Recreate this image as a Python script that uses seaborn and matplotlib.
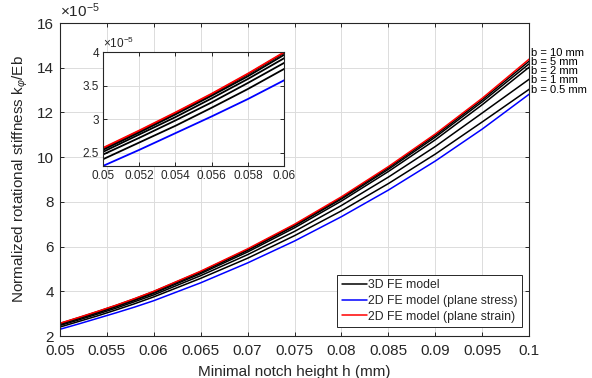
import numpy as np
import pandas as pd
import matplotlib
matplotlib.use("Agg")
import matplotlib.pyplot as plt
import seaborn as sns

# minimal notch height h (mm) and normalized stiffness (in units of 1e-5)
h = [0.05, 0.052, 0.054, 0.056, 0.058, 0.06, 0.065, 0.07, 0.075, 0.08, 0.085, 0.09, 0.095, 0.1]
plane_strain = [2.57, 2.83, 3.10, 3.38, 3.68, 4.00, 4.90, 5.90, 7.00, 8.23, 9.58, 11.04, 12.64, 14.39]
b10 = [2.56, 2.82, 3.09, 3.37, 3.67, 3.99, 4.88, 5.87, 6.97, 8.19, 9.53, 10.98, 12.57, 14.30]
b5 = [2.54, 2.80, 3.07, 3.35, 3.64, 3.96, 4.85, 5.83, 6.92, 8.13, 9.46, 10.90, 12.48, 14.18]
b2 = [2.51, 2.77, 3.03, 3.31, 3.60, 3.91, 4.79, 5.76, 6.84, 8.04, 9.36, 10.78, 12.35, 14.03]
b1 = [2.47, 2.72, 2.98, 3.25, 3.54, 3.84, 4.70, 5.64, 6.68, 7.84, 9.11, 10.48, 11.98, 13.49]
b05 = [2.40, 2.65, 2.90, 3.17, 3.45, 3.75, 4.58, 5.48, 6.49, 7.60, 8.82, 10.14, 11.58, 13.04]
plane_stress = [2.30, 2.54, 2.79, 3.04, 3.30, 3.58, 4.38, 5.27, 6.25, 7.34, 8.53, 9.83, 11.26, 12.82]

b_labels = ["b = 10 mm", "b = 5 mm", "b = 2 mm", "b = 1 mm", "b = 0.5 mm"]
b_series = [b10, b5, b2, b1, b05]

sns.set_style("ticks")
plt.rcParams['font.family'] = ['Liberation Sans', 'DejaVu Sans']
plt.rcParams['mathtext.fontset'] = 'custom'
plt.rcParams['mathtext.rm'] = 'Liberation Sans'
plt.rcParams['mathtext.it'] = 'Liberation Sans:italic'

dark = "#262626"


def draw(ax, lw, with_labels):
    for i, s in enumerate(b_series):
        sns.lineplot(x=h, y=s, ax=ax, color="black", lw=lw,
                     label="3D FE model" if (with_labels and i == 0) else None)
    sns.lineplot(x=h, y=plane_stress, ax=ax, color="#0000ff", lw=lw,
                 label="2D FE model (plane stress)" if with_labels else None)
    sns.lineplot(x=h, y=plane_strain, ax=ax, color="#ff0000", lw=lw,
                 label="2D FE model (plane strain)" if with_labels else None)


def style(ax, fs, pad):
    ax.grid(True, color="#dcdcdc", lw=0.7)
    ax.set_axisbelow(True)
    ax.tick_params(direction="in", top=True, right=True, labelsize=fs,
                   colors=dark, length=3, width=0.7, pad=pad)
    for sp in ax.spines.values():
        sp.set_visible(True)
        sp.set_color(dark)
        sp.set_linewidth(0.8)
    ax.text(0.0, 1.01, r"$\times$10$^{-5}$", transform=ax.transAxes,
            fontsize=fs, color=dark, ha="left", va="bottom")


fig = plt.figure(figsize=(5.92, 3.78), dpi=100)
ax = fig.add_axes([0.101, 0.111, 0.793, 0.828])
draw(ax, 1.1, True)
ax.set_xlim(0.05, 0.1)
ax.set_ylim(2, 16)
ax.set_xticks(np.arange(0.05, 0.1001, 0.005))
ax.set_xticklabels(["0.05", "0.055", "0.06", "0.065", "0.07", "0.075", "0.08",
                    "0.085", "0.09", "0.095", "0.1"])
ax.set_yticks(np.arange(2, 16.1, 2))
ax.set_yticklabels([str(v) for v in range(2, 17, 2)])
style(ax, 11, 4)
ax.tick_params(axis="x", pad=6)
ax.set_xlabel("Minimal notch height h (mm)", fontsize=11, color=dark, labelpad=5)
ax.set_ylabel(r"Normalized rotational stiffness k$_{\varphi}$/Eb", fontsize=11,
              color=dark, labelpad=5)
leg = ax.legend(loc="lower right", bbox_to_anchor=(0.985, 0.029), borderaxespad=0,
                fontsize=8.8, frameon=True, fancybox=False, framealpha=1,
                edgecolor=dark, handlelength=2.1, handletextpad=0.1,
                borderpad=0.35, labelspacing=0.3)
leg.get_frame().set_linewidth(0.7)

# curve labels at the right edge
label_y = [53, 62, 71, 80, 90]
for lab, py in zip(b_labels, label_y):
    fig.text(531 / 592, 1 - py / 378, lab, fontsize=8, color="black",
             ha="left", va="center")

ins = fig.add_axes([0.174, 0.561, 0.306, 0.301])
draw(ins, 1.3, False)
ins.set_xlim(0.05, 0.06)
ins.set_ylim(2.3, 4)
ins.set_xticks(np.arange(0.05, 0.0601, 0.002))
ins.set_xticklabels(["0.05", "0.052", "0.054", "0.056", "0.058", "0.06"])
ins.set_yticks([2.5, 3, 3.5, 4])
ins.set_yticklabels(["2.5", "3", "3.5", "4"])
style(ins, 8.5, 3)
ins.set_xlabel("")
ins.set_ylabel("")
if ins.get_legend():
    ins.get_legend().remove()

fig.savefig("out.png", dpi=100)
